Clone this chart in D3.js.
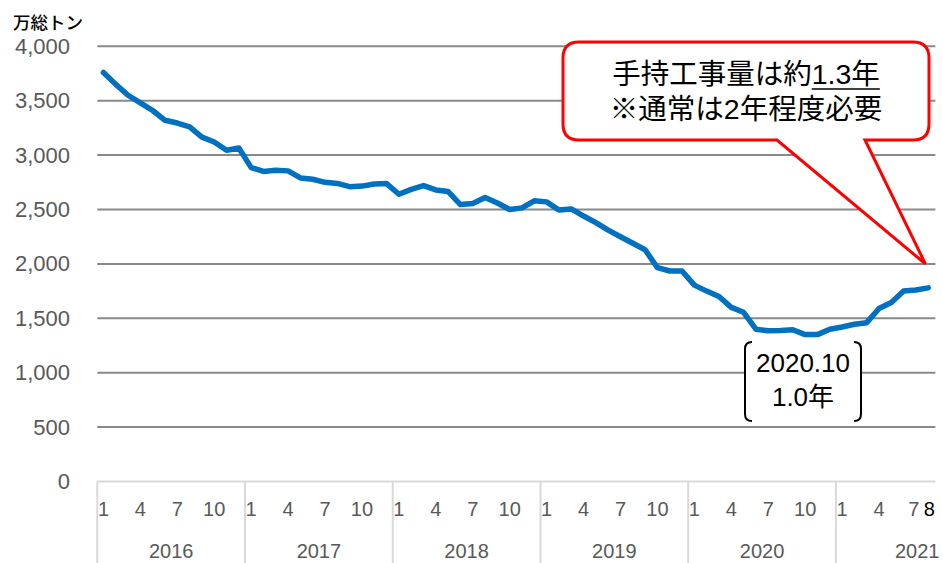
<!DOCTYPE html>
<html>
<head>
<meta charset="utf-8">
<script src="https://cdn.jsdelivr.net/npm/d3@7"></script>
<style>
  html, body { margin: 0; padding: 0; background: #fff; }
  svg { display: block; }
</style>
</head>
<body>
<svg id="chart" width="943" height="563"></svg>
<script>
// Monthly order backlog (万総トン), Jan 2016 – Aug 2021
const years = [2016, 2017, 2018, 2019, 2020, 2021];
const monthLabels = [1, 4, 7, 10];
const lastMonth = 8;
const backlog = [
  3760, 3650, 3550, 3480, 3410, 3320, 3295, 3260, 3165, 3120, 3045, 3065,
  2885, 2850, 2860, 2855, 2790, 2778, 2750, 2740, 2710, 2715, 2735, 2738,
  2640, 2685, 2720, 2680, 2665, 2545, 2555, 2610, 2560, 2500, 2515, 2580,
  2570, 2495, 2505, 2440, 2380, 2310, 2250, 2190, 2130, 1965, 1935, 1935,
  1805, 1750, 1700, 1600, 1555, 1400, 1385, 1388, 1395, 1350, 1350, 1400,
  1420, 1445, 1460, 1590, 1645, 1750, 1760, 1780
];
const yTicks = [0, 500, 1000, 1500, 2000, 2500, 3000, 3500, 4000];
const unitLabel = "万総トン";
const calloutLines = ["手持工事量は約", "1.3年", "※通常は2年程度必要"];
const lowLabel = ["2020.10", "1.0年"];
const calloutTarget = 2000;

const svg = d3.select("#chart");
const plotLeft = 97.3, plotRight = 934.4, plotTop = 46.3, plotBottom = 481.5;
const latin = "'Liberation Sans', Arial, 'Noto Sans CJK JP', sans-serif";

const x = d3.scaleBand().domain(d3.range(backlog.length)).range([plotLeft, plotRight]).padding(0);
const xc = i => x(i) + x.bandwidth() / 2;
const y = d3.scaleLinear().domain([0, 4000]).range([plotBottom, plotTop]);

// horizontal gridlines
svg.append("g").selectAll("line").data(yTicks.filter(d => d > 0)).join("line")
  .attr("x1", plotLeft).attr("x2", plotRight + 1)
  .attr("y1", d => y(d)).attr("y2", d => y(d))
  .attr("stroke", "#898989").attr("stroke-width", 2);

// category axis baseline and year separators
svg.append("line").attr("x1", plotLeft).attr("x2", plotRight + 1)
  .attr("y1", y(0)).attr("y2", y(0))
  .attr("stroke", "#d9d9d9").attr("stroke-width", 2);
svg.append("g").selectAll("line").data(years).join("line")
  .attr("x1", (d, i) => x(i * 12)).attr("x2", (d, i) => x(i * 12))
  .attr("y1", y(0)).attr("y2", 563)
  .attr("stroke", "#d9d9d9").attr("stroke-width", 2);

// y tick labels
svg.append("g").selectAll("text").data(yTicks).join("text")
  .attr("x", 70).attr("y", d => y(d))
  .attr("text-anchor", "end").attr("dominant-baseline", "central")
  .attr("font-family", latin).attr("font-size", 22).attr("fill", "#595959")
  .text(d => d3.format(",")(d));

// unit label
svg.append("text").attr("x", 13).attr("y", 21)
  .attr("dominant-baseline", "central")
  .attr("font-family", "'Noto Sans CJK JP', sans-serif").attr("font-size", 17.5)
  .attr("font-weight", 500)
  .attr("fill", "#000").text(unitLabel);

// month labels
const lastIdx = backlog.length - 1;
const monthItems = [];
years.forEach((yr, yi) => {
  monthLabels.forEach(m => {
    const idx = yi * 12 + m - 1;
    if (idx <= lastIdx) monthItems.push({ idx, m, last: false });
  });
});
monthItems.push({ idx: lastIdx, m: lastMonth, last: true });
svg.append("g").selectAll("text").data(monthItems).join("text")
  .attr("x", d => xc(d.idx) + (d.last ? 1 : (d.idx === lastIdx - 1 ? -2 : 0)))
  .attr("y", 509)
  .attr("text-anchor", "middle").attr("dominant-baseline", "central")
  .attr("font-family", latin).attr("font-size", 20)
  .attr("fill", d => d.last ? "#000" : "#595959")
  .text(d => d.m);

// year labels
svg.append("g").selectAll("text").data(years).join("text")
  .attr("x", (d, i) => {
    const s = x(i * 12);
    const e = x(i * 12) + 12 * x.bandwidth();
    return i === years.length - 1 ? (s + plotRight) / 2 + 32 : (s + e) / 2;
  })
  .attr("y", 551)
  .attr("text-anchor", "middle").attr("dominant-baseline", "central")
  .attr("font-family", latin).attr("font-size", 20).attr("fill", "#595959")
  .text(d => d);

// backlog line
svg.append("path").datum(backlog)
  .attr("fill", "none").attr("stroke", "#0070C0").attr("stroke-width", 5.5)
  .attr("stroke-linejoin", "round").attr("stroke-linecap", "round")
  .attr("d", d3.line().x((d, i) => xc(i)).y(d => y(d)));

// low point label with rounded brackets
const lowX0 = 745, lowX1 = 861, lowY0 = 342, lowY1 = 421;
svg.append("rect").attr("x", lowX0).attr("y", lowY0)
  .attr("width", lowX1 - lowX0).attr("height", lowY1 - lowY0).attr("fill", "#fff");
const br = 7;
svg.append("path")
  .attr("d", `M${lowX0 + br},${lowY0} Q${lowX0},${lowY0} ${lowX0},${lowY0 + br} L${lowX0},${lowY1 - br} Q${lowX0},${lowY1} ${lowX0 + br},${lowY1}` +
             `M${lowX1 - br},${lowY0} Q${lowX1},${lowY0} ${lowX1},${lowY0 + br} L${lowX1},${lowY1 - br} Q${lowX1},${lowY1} ${lowX1 - br},${lowY1}`)
  .attr("fill", "none").attr("stroke", "#000").attr("stroke-width", 2);
svg.append("g").selectAll("text").data(lowLabel).join("text")
  .attr("x", (lowX0 + lowX1) / 2).attr("y", (d, i) => 363 + i * 34)
  .attr("text-anchor", "middle").attr("dominant-baseline", "central")
  .attr("font-family", latin).attr("font-size", 26).attr("fill", "#000")
  .text(d => d);

// speech-bubble callout
const cx0 = 563, cx1 = 929, cy0 = 42, cy1 = 140, r = 16;
const tipX = plotRight - 9, tipY = y(calloutTarget);
const baseL = 777, baseR = 865;
const bubble = [
  `M${cx0 + r},${cy0}`, `L${cx1 - r},${cy0}`, `Q${cx1},${cy0} ${cx1},${cy0 + r}`,
  `L${cx1},${cy1 - r}`, `Q${cx1},${cy1} ${cx1 - r},${cy1}`,
  `L${baseR},${cy1}`, `L${tipX},${tipY}`, `L${baseL},${cy1}`,
  `L${cx0 + r},${cy1}`, `Q${cx0},${cy1} ${cx0},${cy1 - r}`,
  `L${cx0},${cy0 + r}`, `Q${cx0},${cy0} ${cx0 + r},${cy0}`, "Z"
].join(" ");
svg.append("path").attr("d", bubble)
  .attr("fill", "#fff").attr("stroke", "#ff0000").attr("stroke-width", 3)
  .attr("stroke-linejoin", "miter");

const ccx = (cx0 + cx1) / 2;
const t1 = svg.append("text").attr("x", ccx).attr("y", 74)
  .attr("text-anchor", "middle").attr("dominant-baseline", "central")
  .attr("font-family", latin).attr("font-size", 28.5).attr("fill", "#000");
t1.append("tspan").text(calloutLines[0]);
t1.append("tspan").text(calloutLines[1]);
svg.append("text").attr("x", ccx).attr("y", 109)
  .attr("text-anchor", "middle").attr("dominant-baseline", "central")
  .attr("font-family", latin).attr("font-size", 28.5).attr("fill", "#000")
  .text(calloutLines[2]);

// underline under the "1.3年" part
const node = t1.node();
const total = node.getComputedTextLength();
const startX = ccx - total / 2;
const preLen = node.getSubStringLength(0, calloutLines[0].length);
svg.append("line")
  .attr("x1", startX + preLen).attr("x2", startX + total)
  .attr("y1", 89).attr("y2", 89)
  .attr("stroke", "#000").attr("stroke-width", 1.5);
</script>
</body>
</html>
